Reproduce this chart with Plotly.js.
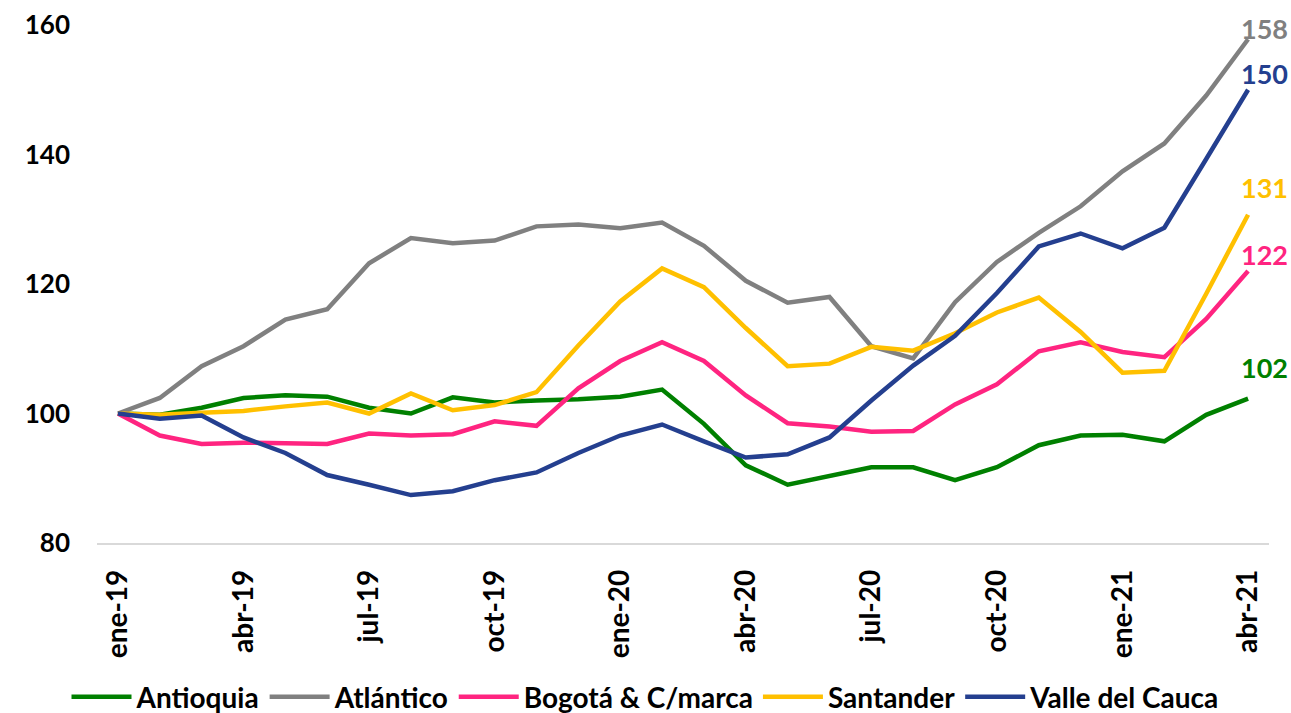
<!DOCTYPE html>
<html>
<head>
<meta charset="utf-8">
<script src="https://cdn.plot.ly/plotly-3.0.1.min.js"></script>
<style>html,body{margin:0;padding:0;background:#fff;}#chart{width:1291px;height:713px;}</style>
</head>
<body>
<div id="chart"></div>
<script>
const months = ["ene-19","feb-19","mar-19","abr-19","may-19","jun-19","jul-19","ago-19","sep-19","oct-19","nov-19","dic-19",
  "ene-20","feb-20","mar-20","abr-20","may-20","jun-20","jul-20","ago-20","sep-20","oct-20","nov-20","dic-20",
  "ene-21","feb-21","mar-21","abr-21"];
const tickLabels = ["ene-19","abr-19","jul-19","oct-19","ene-20","abr-20","jul-20","oct-20","ene-21","abr-21"];

const antioquia = [100,99.8,100.9,102.4,102.8,102.6,100.9,100.0,102.5,101.7,102.0,102.2,102.6,103.7,98.4,92.0,89.0,90.4,91.7,91.7,89.7,91.7,95.1,96.6,96.7,95.7,99.8,102.3];
const atlantico = [100,102.4,107.3,110.4,114.5,116.1,123.2,127.1,126.3,126.7,128.9,129.2,128.6,129.5,125.9,120.5,117.1,118.0,110.4,108.5,117.2,123.4,127.9,132.0,137.4,141.7,149.1,157.8];
const bogota = [100,96.6,95.3,95.5,95.4,95.3,96.9,96.6,96.8,98.8,98.1,103.9,108.1,111.0,108.1,102.8,98.5,98.0,97.2,97.3,101.4,104.5,109.6,111.0,109.5,108.7,114.6,122.0];
const santander = [100,99.8,100.1,100.4,101.1,101.7,100.0,103.1,100.5,101.3,103.3,110.5,117.3,122.4,119.5,113.2,107.3,107.7,110.3,109.7,112.4,115.6,117.9,112.6,106.3,106.6,118.5,130.7];
const valle = [100,99.2,99.7,96.3,93.9,90.5,89.0,87.4,88.0,89.7,90.9,93.9,96.6,98.3,95.7,93.2,93.7,96.3,102.0,107.4,112.0,118.6,125.8,127.8,125.5,128.7,139.3,150.0];

const seriesNames = ["Antioquia","Atlántico","Bogotá & C/marca","Santander","Valle del Cauca"];
const seriesValues = [antioquia, atlantico, bogota, santander, valle];
const colors = ["#008000","#808080","#FF2480","#FFC000","#243F8F"];
const labelShift = [31, 11, 17, 27, 16];

const FONT = "Lato, 'Open Sans', sans-serif";

const traces = seriesNames.map((n, i) => ({
  type: "scatter", mode: "lines", name: n,
  x: months, y: seriesValues[i],
  line: {color: colors[i], width: 4.5},
  hoverinfo: "x+y+name"
}));

const annotations = seriesValues.map((v, i) => ({
  x: months[months.length - 1], y: v[v.length - 1],
  xref: "x", yref: "y",
  text: String(Math.round(v[v.length - 1])),
  showarrow: false, xanchor: "center", yanchor: "middle",
  xshift: 16, yshift: labelShift[i],
  font: {family: FONT, size: 27, color: colors[i], weight: "bold"}
}));

const layout = {
  width: 1291, height: 713,
  margin: {l: 97, r: 22, t: 25, b: 170},
  paper_bgcolor: "#fff", plot_bgcolor: "#fff",
  showlegend: true,
  legend: {
    orientation: "h", x: 0.5, xref: "container", xanchor: "center",
    y: 0.0224, yref: "container", yanchor: "middle",
    font: {family: FONT, size: 28, color: "#000", weight: "bold"},
    itemwidth: 60, tracegroupgap: 0
  },
  xaxis: {
    type: "category", range: [-0.5, 27.5],
    tickmode: "array", tickvals: tickLabels, ticktext: tickLabels,
    tickangle: -90, ticks: "", showgrid: false, zeroline: false,
    showline: true, linecolor: "#d9d9d9", linewidth: 1.5,
    ticklabelstandoff: 14,
    tickfont: {family: FONT, size: 28, color: "#000", weight: "bold"}
  },
  yaxis: {
    range: [80, 160], tickvals: [80,100,120,140,160], ticks: "",
    showgrid: false, zeroline: false, showline: false,
    ticklabelstandoff: 26,
    tickfont: {family: FONT, size: 26, color: "#000", weight: "bold"}
  },
  annotations: annotations
};

Plotly.newPlot("chart", traces, layout, {displayModeBar: false, staticPlot: true});
</script>
</body>
</html>
